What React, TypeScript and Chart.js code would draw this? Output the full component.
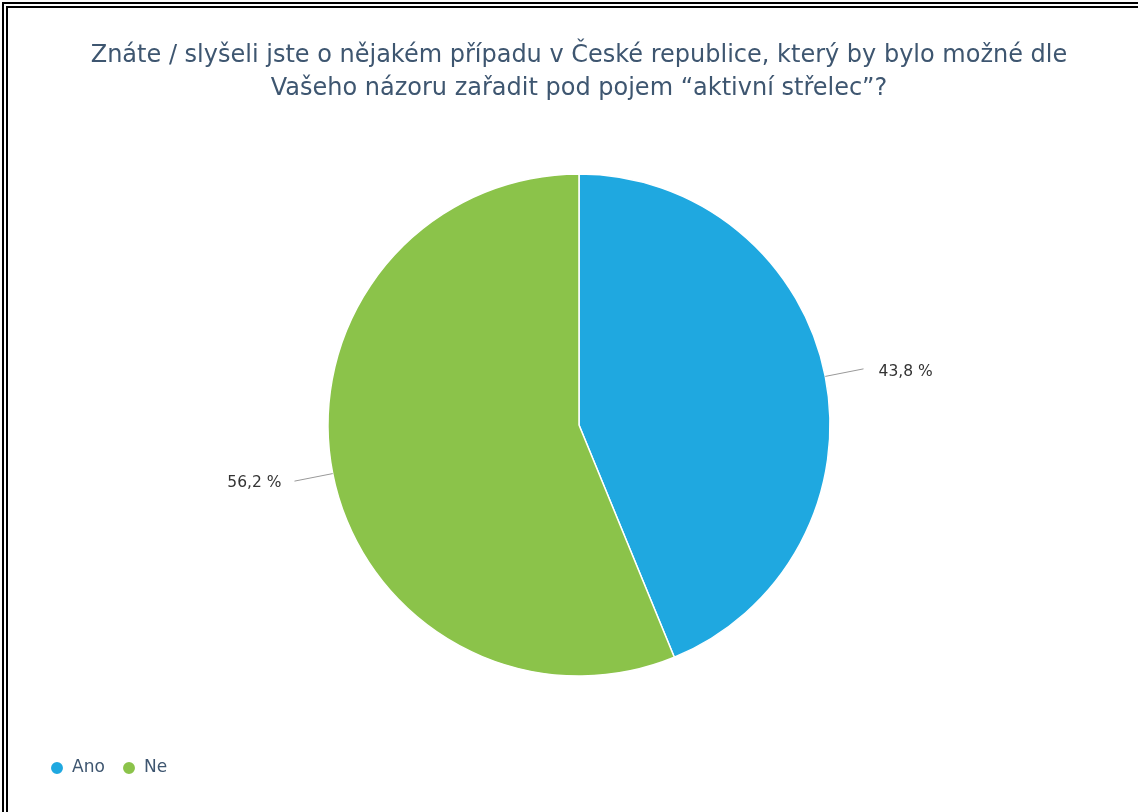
import React, { useEffect, useRef } from "react";
import { Chart, registerables } from "chart.js";

Chart.register(...registerables);

const titleLines = [
  "Znáte / slyšeli jste o nějakém případu v České republice, který by bylo možné dle",
  "Vašeho názoru zařadit pod pojem “aktivní střelec”?",
];
const categories = ["Ano", "Ne"];
const percentValues = [43.8, 56.2];
const sliceColors = ["#1fa8e0", "#8bc34a"];
const valueLabels = ["43,8 %", "56,2 %"];

const FONT = "'DejaVu Sans', sans-serif";

const labelPlugin = {
  id: "pieLabels",
  afterDatasetsDraw(chart: any) {
    const ctx = chart.ctx;
    const meta = chart.getDatasetMeta(0);
    ctx.save();
    meta.data.forEach((arc: any, i: number) => {
      const { x, y, startAngle, endAngle, outerRadius } = arc.getProps(
        ["x", "y", "startAngle", "endAngle", "outerRadius"],
        true
      );
      const mid = (startAngle + endAngle) / 2;
      const cos = Math.cos(mid);
      const sin = Math.sin(mid);
      const x1 = x + outerRadius * cos;
      const y1 = y + outerRadius * sin;
      const x2 = x + (outerRadius + 39) * cos;
      const y2 = y + (outerRadius + 39) * sin;
      ctx.beginPath();
      ctx.strokeStyle = "#999999";
      ctx.lineWidth = 1;
      ctx.moveTo(x1, y1);
      ctx.lineTo(x2, y2);
      ctx.stroke();
      ctx.font = `15.5px ${FONT}`;
      ctx.fillStyle = "#333333";
      ctx.textBaseline = "middle";
      if (cos >= 0) {
        ctx.textAlign = "left";
        ctx.fillText(valueLabels[i], x2 + 15, y2 + 3.5);
      } else {
        ctx.textAlign = "right";
        ctx.fillText(valueLabels[i], x2 - 13, y2 + 1.5);
      }
    });
    ctx.restore();
  },
};

export default function App() {
  const canvasRef = useRef<HTMLCanvasElement | null>(null);

  useEffect(() => {
    if (!canvasRef.current) return;
    const chart = new Chart(canvasRef.current, {
      type: "pie",
      data: {
        labels: categories,
        datasets: [
          {
            data: percentValues,
            backgroundColor: sliceColors,
            borderColor: "#ffffff",
            borderWidth: 1.5,
            radius: 251,
            hoverOffset: 0,
          },
        ],
      },
      options: {
        responsive: false,
        animation: false,
        devicePixelRatio: 1,
        layout: { padding: { top: 0, left: 32.8, right: 12.8, bottom: 25.5 } },
        plugins: {
          title: {
            display: true,
            text: titleLines,
            color: "#3e5670",
            font: { family: FONT, size: 24, weight: "normal", lineHeight: 1.375 },
            padding: { top: 39.5, bottom: 2.7 },
          },
          legend: {
            display: true,
            position: "bottom",
            align: "start",
            labels: {
              usePointStyle: true,
              pointStyle: "circle",
              boxWidth: 13,
              boxHeight: 9.5,
              padding: 17.7,
              color: "#3e5670",
              font: { family: FONT, size: 17 },
            },
          },
          tooltip: { enabled: false },
        },
      },
      plugins: [labelPlugin],
    });
    return () => chart.destroy();
  }, []);

  return (
    <div
      style={{
        position: "fixed",
        left: 0,
        top: 0,
        width: 1138,
        height: 812,
        background: "#ffffff",
        overflow: "hidden",
      }}
    >
      <canvas
        ref={canvasRef}
        width={1138}
        height={812}
        style={{ position: "absolute", left: 0, top: 0, width: 1138, height: 812 }}
      />
      <div
        style={{
          position: "absolute",
          left: 2,
          top: 2,
          width: 2000,
          height: 2000,
          border: "6px double #000000",
          pointerEvents: "none",
        }}
      />
    </div>
  );
}
